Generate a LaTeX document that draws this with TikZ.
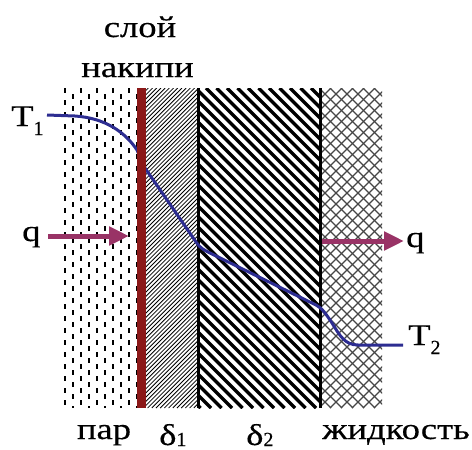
\documentclass[tikz,border=0pt]{standalone}
\usepackage{fontspec}
\setmainfont{Liberation Serif}[BoldFont={Liberation Serif}, BoldFeatures={FakeBold=0.35}]
\usetikzlibrary{arrows.meta}
\definecolor{scalered}{RGB}{139,24,24}
\definecolor{tcurve}{RGB}{45,45,145}
\definecolor{flux}{RGB}{153,51,102}
\definecolor{mesh}{RGB}{70,70,70}
\newcommand{\wideT}[1]{\scalebox{1.22}[1]{#1}}
\newcommand{\sbs}[2]{\raisebox{-#2}{\fontsize{20}{20}\selectfont\bfseries #1}}
\begin{document}
\begin{tikzpicture}[x=1pt,y=-1pt,
  lbl/.style={font=\fontsize{30}{32}\selectfont\bfseries, inner sep=0pt, text=black},
  flow/.style={draw=flux, line width=5pt, -{Triangle[length=20pt,width=18pt,fill=flux]}},
  tline/.style={draw=tcurve, line width=3pt, line join=round},
  steamdash/.style={line width=1.4pt, dash pattern=on 5pt off 7pt},
  finehatch/.style={line width=0.8pt},
  thickhatch/.style={line width=3.2pt},
  meshline/.style={draw=mesh, line width=1.1pt}]
\useasboundingbox (0,0) rectangle (472,450);
% steam (dashed columns)
\foreach \k in {0,...,9}{
  \pgfmathsetmacro{\xx}{65+8*\k}
  \pgfmathsetmacro{\ph}{mod(\k,2)*6}
  \draw[steamdash, dash phase=\ph pt] (\xx,88) -- (\xx,408);
}
% delta1 fine hatch
\begin{scope}
  \clip (145,88) rectangle (197,408);
  \foreach \i in {0,...,90}{
    \draw[finehatch] ({-180+4.2*\i},408) -- ++(320,-320);
  }
\end{scope}
% delta2 thick hatch
\begin{scope}
  \clip (198,88) rectangle (320,408);
  \foreach \i in {0,...,44}{
    \draw[thickhatch] ({-130+10.5*\i},88) -- ++(320,320);
  }
\end{scope}
% liquid crosshatch
\begin{scope}
  \clip (321,88) rectangle (382,408);
  \foreach \i in {0,...,38}{
    \draw[meshline] ({0+11*\i},88) -- ++(320,320);
    \draw[meshline] ({0+11*\i},408) -- ++(320,-320);
  }
\end{scope}
% walls
\draw[line width=2.6pt] (198.5,88) -- (198.5,408);
\draw[line width=3pt] (320,88) -- (320,408);
% temperature curve
\coordinate (ta) at (47,115);
\coordinate (tb) at (403,345);
\draw[tline] (ta) -- (75,116) .. controls (105,118) and (125,132) .. (137,150)
  -- (145,168) -- (196,242) .. controls (200,248) and (204,250) .. (210,253)
  -- (316,305) .. controls (322,308) and (326,314) .. (332,323)
  .. controls (340,336) and (345,345) .. (358,345) -- (tb);
% scale layer
\draw[draw=scalered, line width=8.5pt] (141.5,88) -- (141.5,408);
% heat flux arrows
\coordinate (qa1) at (48,236);
\coordinate (qa2) at (129,236);
\coordinate (qb1) at (322,241);
\coordinate (qb2) at (404,241);
\draw[flow] (qa1) -- (qa2);
\draw[flow] (qb1) -- (qb2);
% labels
\node[lbl, anchor=base] (sloi) at (140,37) {\wideT{слой}};
\node[lbl, anchor=base] (nakipi) at (137.5,77) {\wideT{накипи}};
\node[lbl, anchor=base west] (T1) at (11,126) {\wideT{T}\sbs{1}{0.3em}};
\node[lbl, anchor=base west] (q1) at (22,241) {\wideT{q}};
\node[lbl, anchor=base west] (q2) at (406,247) {\wideT{q}};
\node[lbl, anchor=base west] (T2) at (408,345) {\wideT{T}\sbs{2}{0.3em}};
\node[lbl, anchor=base] (par) at (104,439) {\wideT{пар}};
\node[lbl, anchor=base west] (d1) at (159,445) {\wideT{δ}\sbs{1}{1pt}};
\node[lbl, anchor=base west] (d2) at (246,445) {\wideT{δ}\sbs{2}{1pt}};
\node[lbl, anchor=base] (zhid) at (396,439) {\wideT{жидкость}};
\end{tikzpicture}
\end{document}
